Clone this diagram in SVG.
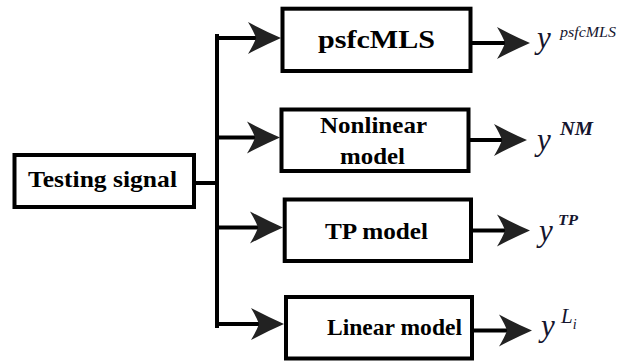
<svg xmlns="http://www.w3.org/2000/svg" width="617" height="361" viewBox="0 0 617 361">
  <style>
    .box { fill: #ffffff; stroke: #000000; stroke-width: 4; }
    .lbl { font-weight: bold; fill: #000000; text-anchor: middle; }
    .wire { fill: none; stroke: #000000; stroke-width: 4; }
    .out { font-style: italic; fill: #15152e; }
  </style>
  <defs>
    <!-- stealth-style arrowhead; reference point sits in the back notch -->
    <marker id="head" markerUnits="userSpaceOnUse" markerWidth="34" markerHeight="34" viewBox="0 0 34 34" refX="8" refY="17" orient="auto" overflow="visible">
      <path d="M33,17 Q17,10 0,1 Q6,11 8,17 Q6,23 0,33 Q17,24 33,17 Z" fill="#222222"/>
    </marker>
  </defs>

  <!-- connectors -->
  <g id="connectors">
    <path class="wire" d="M194,183 H217"/>
    <path class="wire" d="M217,36 V326" stroke-linecap="square"/>
    <path class="wire" d="M217,38 H256" marker-end="url(#head)"/>
    <path class="wire" d="M217,137.5 H255" marker-end="url(#head)"/>
    <path class="wire" d="M217,227.5 H258" marker-end="url(#head)"/>
    <path class="wire" d="M217,324 H259" marker-end="url(#head)"/>
    <path class="wire" d="M472,43 H505" marker-end="url(#head)"/>
    <path class="wire" d="M470,140 H502" marker-end="url(#head)"/>
    <path class="wire" d="M473,230.5 H505" marker-end="url(#head)"/>
    <path class="wire" d="M474,330.5 H507" marker-end="url(#head)"/>
  </g>

  <g font-family="Liberation Serif, Times New Roman, serif">
    <g id="testing-signal">
      <rect class="box" x="14.5" y="155" width="179.5" height="52"/>
      <text class="lbl" x="102.5" y="187" font-size="23" textLength="149" lengthAdjust="spacingAndGlyphs">Testing signal</text>
    </g>

    <g id="psfcmls">
      <rect class="box" x="282.5" y="8.7" width="188" height="62.3"/>
      <text class="lbl" x="376.5" y="48" font-size="25" textLength="117" lengthAdjust="spacingAndGlyphs">psfcMLS</text>
    </g>

    <g id="nonlinear-model">
      <rect class="box" x="281.5" y="109.5" width="187" height="61.5"/>
      <text class="lbl" x="373.5" y="133" font-size="22.5" textLength="107" lengthAdjust="spacingAndGlyphs">Nonlinear</text>
      <text class="lbl" x="372.5" y="164" font-size="22.5" textLength="65" lengthAdjust="spacingAndGlyphs">model</text>
    </g>

    <g id="tp-model">
      <rect class="box" x="284.7" y="199.5" width="186.3" height="61.5"/>
      <text class="lbl" x="376.5" y="239" font-size="22.5" textLength="103" lengthAdjust="spacingAndGlyphs">TP model</text>
    </g>

    <g id="linear-model">
      <rect class="box" x="286" y="297" width="186" height="61.5"/>
      <text class="lbl" x="394.5" y="335" font-size="22.5" textLength="135" lengthAdjust="spacingAndGlyphs">Linear model</text>
    </g>

    <!-- model outputs -->
    <g id="y-psfcmls">
      <text class="out" x="537" y="48" font-size="31">y</text>
      <text class="out" x="560" y="37" font-size="14" textLength="56" lengthAdjust="spacingAndGlyphs">psfcMLS</text>
    </g>
    <g id="y-nm">
      <text class="out" x="537" y="150" font-size="31">y</text>
      <text class="out" x="560" y="135" font-size="19" font-weight="bold" textLength="33" lengthAdjust="spacingAndGlyphs">NM</text>
    </g>
    <g id="y-tp">
      <text class="out" x="539" y="241" font-size="31">y</text>
      <text class="out" x="558" y="225" font-size="15" font-weight="bold" textLength="20" lengthAdjust="spacingAndGlyphs">TP</text>
    </g>
    <g id="y-li">
      <text class="out" x="541" y="336" font-size="31">y</text>
      <text class="out" x="561" y="323" font-size="21">L<tspan font-size="14" dy="6">i</tspan></text>
    </g>
  </g>
</svg>
